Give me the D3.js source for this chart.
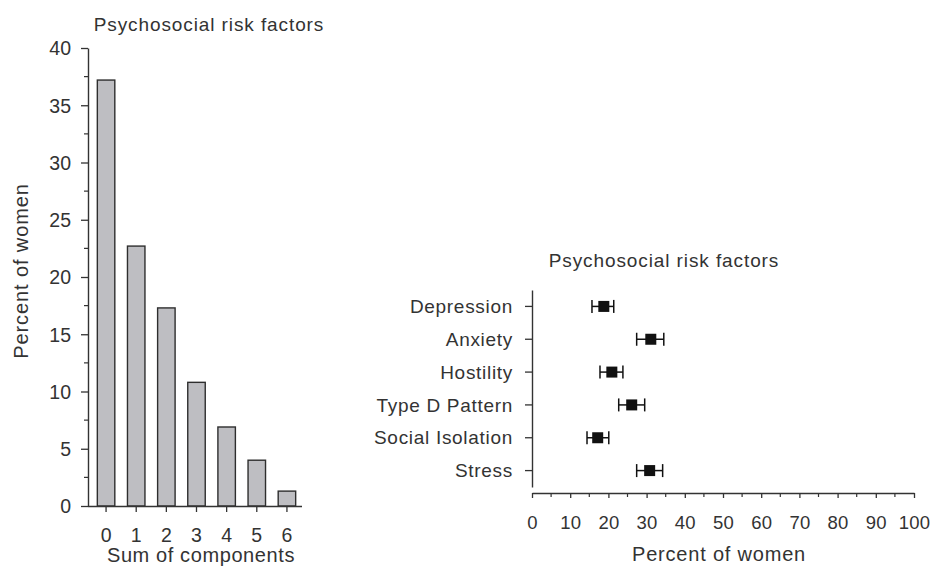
<!DOCTYPE html>
<html>
<head>
<meta charset="utf-8">
<script src="https://cdn.jsdelivr.net/npm/d3@7/dist/d3.min.js"></script>
<style>
  html, body { margin: 0; padding: 0; background: #fff; }
  svg { display: block; }
  text { font-family: "Liberation Sans", Arial, sans-serif; fill: #333; }
</style>
</head>
<body>
<svg id="chart" width="933" height="566"></svg>
<script>
// ---------- data ----------
const title = "Psychosocial risk factors";
const sumCategories = ["0", "1", "2", "3", "4", "5", "6"];
const sumPercent = [37.2, 22.7, 17.3, 10.8, 6.9, 4.0, 1.3];
const leftYTicks = [0, 5, 10, 15, 20, 25, 30, 35, 40];

const riskFactors = ["Depression", "Anxiety", "Hostility", "Type D Pattern", "Social Isolation", "Stress"];
const riskPercent = [18.8, 31.1, 20.9, 26.1, 17.2, 30.8];
const riskLower = [15.7, 27.4, 17.8, 22.7, 14.4, 27.4];
const riskUpper = [21.4, 34.5, 23.8, 29.5, 20.1, 34.2];
const rightXTicks = [0, 10, 20, 30, 40, 50, 60, 70, 80, 90, 100];

const svg = d3.select("#chart");
const axisColor = "#333";
const fontFam = '"Liberation Sans", Arial, sans-serif';

// ---------- left chart ----------
const yL = d3.scaleLinear().domain([0, 40]).range([506, 48]);
const xL = d3.scaleBand().domain(sumCategories).range([91, 302]).paddingInner(0.42).paddingOuter(0.21);

const gL = svg.append("g");

// bars
gL.selectAll("rect.bar").data(sumPercent).join("rect")
  .attr("class", "bar")
  .attr("x", (d, i) => xL(sumCategories[i]))
  .attr("width", xL.bandwidth())
  .attr("y", d => yL(d))
  .attr("height", d => yL(0) - yL(d))
  .attr("fill", "#bebec2")
  .attr("stroke", "#2e2e2e")
  .attr("stroke-width", 1.4);

// y axis (major)
const yAxisL = gL.append("g").attr("transform", "translate(88,0)")
  .call(d3.axisLeft(yL).tickValues(leftYTicks).tickSize(7).tickPadding(10).tickSizeOuter(0));
// minor ticks
const minorL = d3.range(2.5, 40, 5);
gL.selectAll("line.minorL").data(minorL).join("line")
  .attr("x1", 84).attr("x2", 88)
  .attr("y1", d => yL(d)).attr("y2", d => yL(d))
  .attr("stroke", axisColor).attr("stroke-width", 1.2);

// x axis
const xAxisL = gL.append("g").attr("transform", "translate(0,506)")
  .call(d3.axisBottom(xL).tickSize(6).tickPadding(16).tickSizeOuter(0));
xAxisL.select(".domain").attr("d", "M88,0.5H302");

[yAxisL, xAxisL].forEach(a => {
  a.select(".domain").attr("stroke", axisColor).attr("stroke-width", 1.4);
  a.selectAll(".tick line").attr("stroke", axisColor).attr("stroke-width", 1.3);
  a.selectAll(".tick text").attr("font-size", 19.5).attr("fill", "#333")
    .style("font-family", fontFam);
});
yAxisL.selectAll(".tick text").attr("dy", "0.35em");

gL.append("text").attr("x", 209).attr("y", 31).attr("text-anchor", "middle")
  .attr("font-size", 19).attr("letter-spacing", 0.9).text(title);
gL.append("text").attr("x", 201).attr("y", 562).attr("text-anchor", "middle")
  .attr("font-size", 20).attr("letter-spacing", 0.6).text("Sum of components");
gL.append("text").attr("transform", "translate(28,271) rotate(-90)").attr("text-anchor", "middle")
  .attr("font-size", 20).attr("letter-spacing", 0.9).text("Percent of women");

// ---------- right chart ----------
const xR = d3.scaleLinear().domain([0, 100]).range([532, 914]);
const yR = d3.scaleBand().domain(riskFactors).range([290, 487]);
const gR = svg.append("g");

const yAxisR = gR.append("g").attr("transform", "translate(532,0)")
  .call(d3.axisLeft(yR).tickSize(7).tickPadding(12).tickSizeOuter(0));
const xAxisR = gR.append("g").attr("transform", "translate(0,493)")
  .call(d3.axisBottom(xR).tickValues(rightXTicks).tickSize(5).tickPadding(18).tickSizeOuter(0));
gR.selectAll("line.minorR").data(d3.range(5, 100, 10)).join("line")
  .attr("x1", d => xR(d)).attr("x2", d => xR(d))
  .attr("y1", 493).attr("y2", 497)
  .attr("stroke", axisColor).attr("stroke-width", 1.2);

[yAxisR, xAxisR].forEach(a => {
  a.select(".domain").attr("stroke", axisColor).attr("stroke-width", 1.4);
  a.selectAll(".tick line").attr("stroke", axisColor).attr("stroke-width", 1.3);
  a.selectAll(".tick text").attr("fill", "#333")
    .style("font-family", fontFam);
});
yAxisR.selectAll(".tick text").attr("font-size", 19).attr("letter-spacing", 0.7).attr("dy", "0.35em");
xAxisR.selectAll(".tick text").attr("font-size", 18.5).attr("letter-spacing", 0.2);

// error bars
const cy = (i) => yR(riskFactors[i]) + yR.bandwidth() / 2;
const eb = gR.selectAll("g.eb").data(riskPercent).join("g").attr("class", "eb");
eb.append("line")
  .attr("x1", (d, i) => xR(riskLower[i])).attr("x2", (d, i) => xR(riskUpper[i]))
  .attr("y1", (d, i) => cy(i)).attr("y2", (d, i) => cy(i))
  .attr("stroke", "#111").attr("stroke-width", 1.5);
eb.append("line")
  .attr("x1", (d, i) => xR(riskLower[i])).attr("x2", (d, i) => xR(riskLower[i]))
  .attr("y1", (d, i) => cy(i) - 6.5).attr("y2", (d, i) => cy(i) + 6.5)
  .attr("stroke", "#111").attr("stroke-width", 1.5);
eb.append("line")
  .attr("x1", (d, i) => xR(riskUpper[i])).attr("x2", (d, i) => xR(riskUpper[i]))
  .attr("y1", (d, i) => cy(i) - 6.5).attr("y2", (d, i) => cy(i) + 6.5)
  .attr("stroke", "#111").attr("stroke-width", 1.5);
eb.append("rect")
  .attr("x", d => xR(d) - 5.5).attr("y", (d, i) => cy(i) - 5.5)
  .attr("width", 11).attr("height", 11).attr("fill", "#111");

gR.append("text").attr("x", 664).attr("y", 267).attr("text-anchor", "middle")
  .attr("font-size", 19).attr("letter-spacing", 0.9).text(title);
gR.append("text").attr("x", 719).attr("y", 561).attr("text-anchor", "middle")
  .attr("font-size", 20).attr("letter-spacing", 0.8).text("Percent of women");
</script>
</body>
</html>
